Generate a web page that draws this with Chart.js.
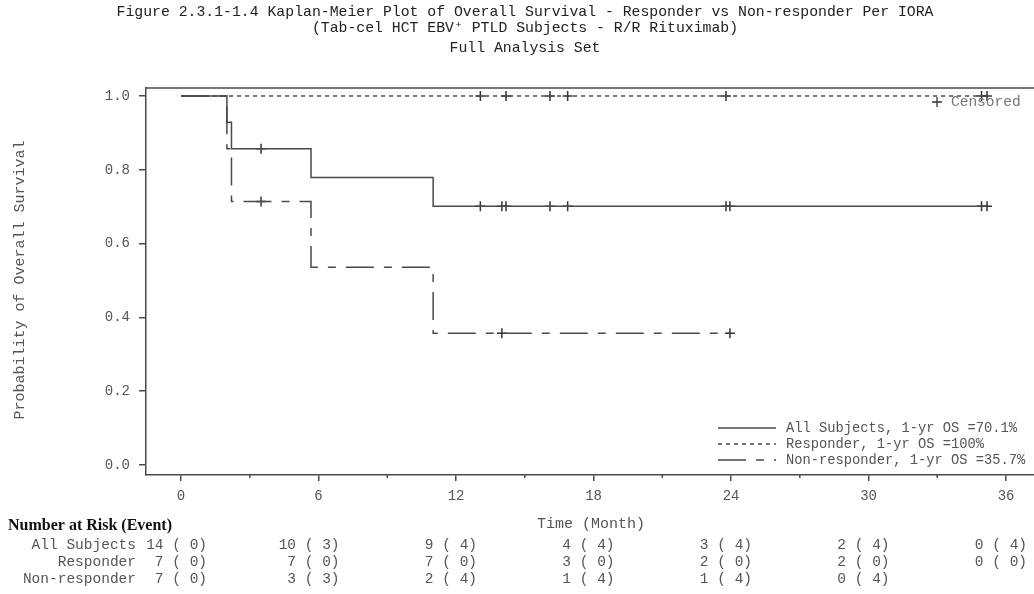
<!DOCTYPE html>
<html>
<head>
<meta charset="utf-8">
<script src="https://cdn.jsdelivr.net/npm/chart.js@4.4.0/dist/chart.umd.min.js"></script>
<style>
  html, body { margin: 0; padding: 0; background: #fff; }
  #wrap { width: 1034px; height: 594px; }
</style>
</head>
<body>
<div id="wrap"><canvas id="kmChart" width="1034" height="594"></canvas></div>
<script>
const titleLines = [
    'Figure 2.3.1-1.4 Kaplan-Meier Plot of Overall Survival - Responder vs Non-responder Per IORA',
    '(Tab-cel HCT EBV\u207A PTLD Subjects - R/R Rituximab)',
    'Full Analysis Set'
];
const groups = ['All Subjects', 'Responder', 'Non-responder'];
const legendLabels = ['All Subjects, 1-yr OS =70.1%', 'Responder, 1-yr OS =100%', 'Non-responder, 1-yr OS =35.7%'];

// KM step points (months, survival probability)
const allTimes = [0, 2.0, 2.2, 5.67, 11.0, 35.17];
const allSurv = [1, 0.929, 0.857, 0.779, 0.701, 0.701];
const respTimes = [0, 35.17];
const respSurv = [1, 1];
const nonTimes = [0, 2.0, 2.2, 5.67, 11.0, 23.95];
const nonSurv = [1, 0.857, 0.714, 0.536, 0.357, 0.357];

// censored times (months)
const allCensored = [3.49, 13.06, 14.0, 14.18, 16.1, 16.87, 23.78, 23.95, 34.93, 35.17];
const respCensored = [13.06, 14.18, 16.1, 16.87, 23.78, 34.93, 35.17];
const nonCensored = [3.49, 14.0, 23.95];

// number at risk (event)
const riskTimes = [0, 6, 12, 18, 24, 30, 36];
const allAtRisk = [14, 10, 9, 4, 3, 2, 0];
const allEvents = [0, 3, 4, 4, 4, 4, 4];
const respAtRisk = [7, 7, 7, 3, 2, 2, 0];
const respEvents = [0, 0, 0, 0, 0, 0, 0];
const nonAtRisk = [7, 3, 2, 1, 1, 0];
const nonEvents = [0, 3, 4, 4, 4, 4];

const yTicks = [0, 0.2, 0.4, 0.6, 0.8, 1.0];

const lineColor = '#4a4a4a';
const textColor = '#555';
const mono = '"Liberation Mono", "DejaVu Sans Mono", monospace';
const dashes = [[], [4, 4], [28, 10, 8, 10]];

function stepPoints(times, surv) {
    return times.map((t, i) => ({ x: t, y: surv[i] }));
}
function survAt(times, surv, t) {
    let s = surv[0];
    for (let i = 0; i < times.length; i++) if (times[i] <= t) s = surv[i];
    return s;
}
function censorPoints(cens, times, surv) {
    return cens.map(t => ({ x: t, y: survAt(times, surv, t) }));
}

function lineSet(label, pts, dash) {
    return {
        type: 'line', label: label, data: pts, stepped: 'before',
        borderColor: lineColor, borderWidth: 1.5, borderDash: dash,
        pointRadius: 0, fill: false
    };
}
function censSet(pts) {
    return {
        type: 'line', data: pts, showLine: false,
        pointStyle: 'cross', pointRadius: 5, pointBorderWidth: 1.5,
        pointBorderColor: '#333', borderColor: '#333'
    };
}

const decor = {
    id: 'decor',
    afterDraw(chart) {
        const c = chart.ctx, xs = chart.scales.x, a = chart.chartArea;
        c.save();
        // top frame line
        c.strokeStyle = lineColor; c.lineWidth = 1.5;
        c.beginPath(); c.moveTo(a.left, a.top); c.lineTo(1034, a.top); c.stroke();
        // minor x ticks
        for (let t = 3; t < 37; t += 6) {
            const px = xs.getPixelForValue(t);
            c.beginPath(); c.moveTo(px, a.bottom); c.lineTo(px, a.bottom + 3); c.stroke();
        }

        // titles
        c.fillStyle = '#222';
        c.textAlign = 'center'; c.textBaseline = 'middle';
        c.font = '14.8px ' + mono;
        c.fillText(titleLines[0], 525, 12);
        c.fillText(titleLines[1], 525, 28);
        c.fillText(titleLines[2], 525, 48);

        // axis titles
        c.fillStyle = textColor;
        c.font = '15px ' + mono;
        c.fillText('Time (Month)', 591, 524);
        c.save();
        c.translate(20, 280); c.rotate(-Math.PI / 2);
        c.fillText('Probability of Overall Survival', 0, 0);
        c.restore();

        // censored marker label
        c.strokeStyle = '#333'; c.lineWidth = 1.3;
        c.beginPath();
        c.moveTo(932, 102); c.lineTo(942, 102);
        c.moveTo(937, 97); c.lineTo(937, 107);
        c.stroke();
        c.textAlign = 'left';
        c.font = '14.5px ' + mono;
        c.fillStyle = '#777';
        c.fillText('Censored', 951, 102);

        // legend
        c.fillStyle = textColor;
        c.font = '13.75px ' + mono;
        const ly = [428, 444, 460];
        legendLabels.forEach((lab, i) => {
            c.strokeStyle = lineColor; c.lineWidth = 1.5;
            c.setLineDash(dashes[i]);
            c.beginPath(); c.moveTo(718, ly[i]); c.lineTo(776, ly[i]); c.stroke();
            c.setLineDash([]);
            c.fillText(lab, 786, ly[i]);
        });

        // number at risk table
        c.fillStyle = '#111';
        c.font = 'bold 16px "Liberation Serif", "DejaVu Serif", serif';
        c.textAlign = 'left';
        c.fillText('Number at Risk (Event)', 8, 526);
        c.fillStyle = textColor;
        c.font = '14.5px ' + mono;
        const rows = [[allAtRisk, allEvents], [respAtRisk, respEvents], [nonAtRisk, nonEvents]];
        const ry = [545, 562, 579];
        rows.forEach((r, i) => {
            c.textAlign = 'right';
            c.fillText(groups[i], 136, ry[i]);
            r[0].forEach((n, j) => {
                const px = xs.getPixelForValue(riskTimes[j]) + (j === 0 ? 26 : 21);
                c.fillText(n + ' ( ' + r[1][j] + ')', px, ry[i]);
            });
        });
        c.restore();
    }
};

const ctx = document.getElementById('kmChart').getContext('2d');
new Chart(ctx, {
    data: {
        datasets: [
            lineSet(groups[0], stepPoints(allTimes, allSurv), dashes[0]),
            lineSet(groups[1], stepPoints(respTimes, respSurv), dashes[1]),
            lineSet(groups[2], stepPoints(nonTimes, nonSurv), dashes[2]),
            censSet(censorPoints(allCensored, allTimes, allSurv)),
            censSet(censorPoints(respCensored, respTimes, respSurv)),
            censSet(censorPoints(nonCensored, nonTimes, nonSurv))
        ]
    },
    options: {
        responsive: false,
        animation: false,
        layout: { autoPadding: false, padding: { top: 88, left: 0, right: 0, bottom: 0 } },
        plugins: { legend: { display: false }, tooltip: { enabled: false } },
        scales: {
            x: {
                type: 'linear', min: -1.53, max: 37.22,
                afterFit: s => { s.height = 119; s.paddingRight = 0; s.paddingLeft = 0; },
                border: { color: lineColor, width: 1.5 },
                grid: {
                    drawOnChartArea: false, drawTicks: true, tickLength: 6, lineWidth: 1.5,
                    tickColor: c => (c.tick && c.tick.value % 6 === 0) ? lineColor : 'rgba(0,0,0,0)'
                },
                ticks: {
                    stepSize: 3, includeBounds: false, autoSkip: false, maxRotation: 0,
                    padding: 7, color: textColor, font: { family: mono, size: 14 },
                    callback: v => (v % 6 === 0 ? String(v) : '')
                }
            },
            y: {
                type: 'linear', min: -0.0271, max: 1.0217,
                afterFit: s => { s.width = 146; s.paddingTop = 0; s.paddingBottom = 0; },
                border: { color: lineColor, width: 1.5 },
                grid: { drawOnChartArea: false, drawTicks: true, tickLength: 7, lineWidth: 1.5, color: lineColor },
                afterBuildTicks: s => { s.ticks = yTicks.map(v => ({ value: v })); },
                ticks: {
                    padding: 9, color: textColor, font: { family: mono, size: 14 },
                    callback: v => Number(v).toFixed(1)
                }
            }
        }
    },
    plugins: [decor]
});
</script>
</body>
</html>
